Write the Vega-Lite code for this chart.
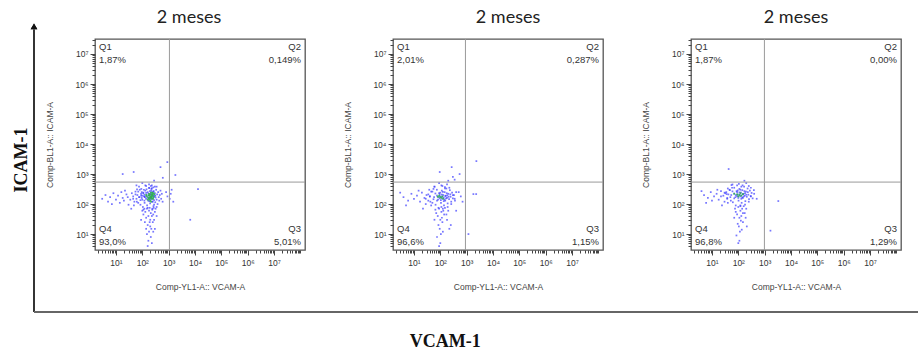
{
"$schema": "https://vega.github.io/schema/vega-lite/v6.json",
"padding": {"left": 12, "top": 7, "right": 0, "bottom": 2},
"autosize": {"type": "pad"},
"config": {
  "font": "Liberation Sans",
  "view": {"stroke": "#555", "strokeWidth": 1.3},
  "axis": {"grid": false, "domain": false, "labelFont": "Liberation Sans", "labelFontSize": 8.5, "labelColor": "#333", "tickColor": "#444", "titleFont": "Liberation Sans", "titleFontSize": 8.5, "titleFontWeight": "normal", "titleColor": "#444", "labelOverlap": false, "labelFlush": false},
  "title": {"font": "Lato", "fontSize": 18, "fontWeight": "normal", "color": "#222", "offset": 12, "anchor": "middle"}
},
"datasets": {
  "frame": [{"axis": "y", "label": "ICAM-1"}, {"axis": "x", "label": "VCAM-1"}],
  "gates": [{"panel": 1, "vcam_gate": 1070, "icam_gate": 540}, {"panel": 2, "vcam_gate": 900, "icam_gate": 540}, {"panel": 3, "vcam_gate": 980, "icam_gate": 540}],
  "quads": [
    {"panel": 1, "quad": "Q1", "label": "Q1\n1,87%"}, {"panel": 1, "quad": "Q2", "label": "Q2\n0,149%"}, {"panel": 1, "quad": "Q3", "label": "Q3\n5,01%"}, {"panel": 1, "quad": "Q4", "label": "Q4\n93,0%"},
    {"panel": 2, "quad": "Q1", "label": "Q1\n2,01%"}, {"panel": 2, "quad": "Q2", "label": "Q2\n0,287%"}, {"panel": 2, "quad": "Q3", "label": "Q3\n1,15%"}, {"panel": 2, "quad": "Q4", "label": "Q4\n96,6%"},
    {"panel": 3, "quad": "Q1", "label": "Q1\n1,87%"}, {"panel": 3, "quad": "Q2", "label": "Q2\n0,00%"}, {"panel": 3, "quad": "Q3", "label": "Q3\n1,29%"}, {"panel": 3, "quad": "Q4", "label": "Q4\n96,8%"}
  ],
  "p1": [
    {"vcam":45,"icam":150},{"vcam":55,"icam":210},{"vcam":62,"icam":120},{"vcam":70,"icam":260},{"vcam":78,"icam":170},{"vcam":85,"icam":95},{"vcam":92,"icam":320},{"vcam":100,"icam":140},{"vcam":108,"icam":230},{"vcam":115,"icam":180},
    {"vcam":122,"icam":110},{"vcam":130,"icam":280},{"vcam":138,"icam":150},{"vcam":145,"icam":200},{"vcam":152,"icam":90},{"vcam":160,"icam":250},{"vcam":168,"icam":130},{"vcam":175,"icam":190},{"vcam":182,"icam":340},{"vcam":190,"icam":160},
    {"vcam":198,"icam":105},{"vcam":205,"icam":220},{"vcam":212,"icam":145},{"vcam":220,"icam":290},{"vcam":228,"icam":175},{"vcam":235,"icam":120},{"vcam":242,"icam":240},{"vcam":250,"icam":155},{"vcam":258,"icam":200},{"vcam":265,"icam":85},
    {"vcam":272,"icam":270},{"vcam":280,"icam":135},{"vcam":290,"icam":185},{"vcam":300,"icam":230},{"vcam":310,"icam":115},{"vcam":320,"icam":165},{"vcam":335,"icam":300},{"vcam":350,"icam":140},{"vcam":365,"icam":210},{"vcam":380,"icam":100},
    {"vcam":400,"icam":250},{"vcam":420,"icam":170},{"vcam":440,"icam":130},{"vcam":460,"icam":200},{"vcam":490,"icam":280},{"vcam":520,"icam":150},{"vcam":550,"icam":220},{"vcam":590,"icam":120},{"vcam":75,"icam":380},{"vcam":130,"icam":420},
    {"vcam":210,"icam":400},{"vcam":300,"icam":380},{"vcam":160,"icam":75},{"vcam":240,"icam":70},{"vcam":110,"icam":65},{"vcam":350,"icam":80},{"vcam":180,"icam":450},{"vcam":260,"icam":360},{"vcam":95,"icam":250},{"vcam":145,"icam":310},
    {"vcam":195,"icam":270},{"vcam":230,"icam":330},{"vcam":280,"icam":95},{"vcam":125,"icam":175},{"vcam":170,"icam":225},{"vcam":215,"icam":165},{"vcam":250,"icam":120},{"vcam":185,"icam":125},{"vcam":155,"icam":165},{"vcam":205,"icam":185},
    {"vcam":235,"icam":205},{"vcam":265,"icam":175},{"vcam":140,"icam":235},{"vcam":225,"icam":250},{"vcam":175,"icam":150},{"vcam":195,"icam":205},{"vcam":260,"icam":260},{"vcam":120,"icam":205},{"vcam":310,"icam":190},{"vcam":90,"icam":190},
    {"vcam":3,"icam":150},{"vcam":4,"icam":200},{"vcam":5,"icam":120},{"vcam":6,"icam":170},{"vcam":8,"icam":230},{"vcam":10,"icam":140},{"vcam":12,"icam":190},{"vcam":14,"icam":110},{"vcam":16,"icam":250},{"vcam":18,"icam":160},
    {"vcam":20,"icam":130},{"vcam":25,"icam":210},{"vcam":28,"icam":170},{"vcam":30,"icam":95},{"vcam":35,"icam":140},{"vcam":40,"icam":230},{"vcam":45,"icam":180},{"vcam":50,"icam":120},{"vcam":55,"icam":260},{"vcam":60,"icam":150},
    {"vcam":65,"icam":200},{"vcam":70,"icam":110},{"vcam":75,"icam":170},{"vcam":80,"icam":300},{"vcam":85,"icam":135},{"vcam":90,"icam":220},{"vcam":95,"icam":160},{"vcam":100,"icam":190},{"vcam":110,"icam":240},{"vcam":120,"icam":130},
    {"vcam":7,"icam":100},{"vcam":22,"icam":280},{"vcam":48,"icam":90},{"vcam":63,"icam":310},{"vcam":38,"icam":70},{"vcam":105,"icam":80},{"vcam":115,"icam":300},{"vcam":125,"icam":170},
    {"vcam":150,"icam":70},{"vcam":180,"icam":60},{"vcam":210,"icam":50},{"vcam":170,"icam":40},{"vcam":240,"icam":65},{"vcam":200,"icam":30},{"vcam":130,"icam":55},{"vcam":260,"icam":45},{"vcam":190,"icam":25},{"vcam":160,"icam":20},
    {"vcam":220,"icam":15},{"vcam":140,"icam":35},{"vcam":250,"icam":25},{"vcam":180,"icam":12},{"vcam":120,"icam":70},{"vcam":270,"icam":75},{"vcam":300,"icam":55},{"vcam":210,"icam":8},{"vcam":230,"icam":40},{"vcam":170,"icam":6},
    {"vcam":150,"icam":10},{"vcam":200,"icam":18},{"vcam":280,"icam":30},{"vcam":110,"icam":45},{"vcam":320,"icam":70},{"vcam":140,"icam":15},{"vcam":260,"icam":12},{"vcam":190,"icam":75},{"vcam":100,"icam":60},{"vcam":350,"icam":40},
    {"vcam":230,"icam":5},{"vcam":160,"icam":4},{"vcam":90,"icam":30},{"vcam":300,"icam":15},{"vcam":125,"icam":25},
    {"vcam":890,"icam":2500},{"vcam":1800,"icam":930},{"vcam":47,"icam":1170},{"vcam":18,"icam":1000},{"vcam":490,"icam":1700},{"vcam":140,"icam":400},{"vcam":100,"icam":500},{"vcam":180,"icam":350},{"vcam":230,"icam":420},{"vcam":280,"icam":600},
    {"vcam":350,"icam":380},{"vcam":60,"icam":420},{"vcam":220,"icam":330},{"vcam":600,"icam":750},
    {"vcam":1300,"icam":300},{"vcam":13000,"icam":316},{"vcam":6600,"icam":30},{"vcam":1100,"icam":150},{"vcam":1200,"icam":220},{"vcam":900,"icam":180},{"vcam":1500,"icam":120},{"vcam":800,"icam":250}
  ],
  "p1hi": [
    {"vcam":150,"icam":180},{"vcam":170,"icam":160},{"vcam":190,"icam":200},{"vcam":210,"icam":175},{"vcam":230,"icam":150},{"vcam":250,"icam":190},{"vcam":180,"icam":220},{"vcam":200,"icam":130},{"vcam":220,"icam":210},{"vcam":240,"icam":240},
    {"vcam":160,"icam":140},{"vcam":270,"icam":170},{"vcam":190,"icam":170},{"vcam":210,"icam":240},{"vcam":230,"icam":190},{"vcam":175,"icam":195},{"vcam":255,"icam":150},{"vcam":140,"icam":200},{"vcam":290,"icam":210},{"vcam":200,"icam":160},
    {"vcam":215,"icam":120},{"vcam":245,"icam":215},{"vcam":185,"icam":145},{"vcam":265,"icam":230},{"vcam":225,"icam":170}
  ],
  "p2": [
    {"vcam":28,"icam":150},{"vcam":35,"icam":210},{"vcam":42,"icam":120},{"vcam":50,"icam":260},{"vcam":58,"icam":170},{"vcam":66,"icam":95},{"vcam":74,"icam":300},{"vcam":82,"icam":140},{"vcam":90,"icam":230},{"vcam":98,"icam":180},
    {"vcam":106,"icam":110},{"vcam":114,"icam":280},{"vcam":122,"icam":150},{"vcam":130,"icam":200},{"vcam":138,"icam":90},{"vcam":146,"icam":250},{"vcam":154,"icam":130},{"vcam":162,"icam":190},{"vcam":170,"icam":330},{"vcam":180,"icam":160},
    {"vcam":190,"icam":105},{"vcam":200,"icam":220},{"vcam":215,"icam":145},{"vcam":230,"icam":290},{"vcam":245,"icam":175},{"vcam":260,"icam":120},{"vcam":280,"icam":240},{"vcam":300,"icam":155},{"vcam":330,"icam":200},{"vcam":360,"icam":130},
    {"vcam":400,"icam":250},{"vcam":60,"icam":380},{"vcam":110,"icam":420},{"vcam":150,"icam":370},{"vcam":85,"icam":75},{"vcam":125,"icam":70},{"vcam":190,"icam":80},{"vcam":45,"icam":90},{"vcam":75,"icam":190},{"vcam":95,"icam":155},
    {"vcam":115,"icam":205},{"vcam":135,"icam":165},{"vcam":155,"icam":185},{"vcam":105,"icam":135},{"vcam":65,"icam":225},{"vcam":125,"icam":255},{"vcam":175,"icam":230},{"vcam":85,"icam":170},{"vcam":145,"icam":140},{"vcam":205,"icam":175},
    {"vcam":55,"icam":145},{"vcam":115,"icam":175},{"vcam":95,"icam":210},{"vcam":135,"icam":125},{"vcam":165,"icam":155},{"vcam":75,"icam":130},{"vcam":185,"icam":195},{"vcam":100,"icam":240},{"vcam":240,"icam":210},{"vcam":40,"icam":180},
    {"vcam":4,"icam":170},{"vcam":6,"icam":130},{"vcam":8,"icam":220},{"vcam":10,"icam":150},{"vcam":13,"icam":190},{"vcam":17,"icam":120},{"vcam":20,"icam":240},{"vcam":25,"icam":160},{"vcam":30,"icam":200},{"vcam":35,"icam":130},
    {"vcam":40,"icam":180},{"vcam":45,"icam":260},{"vcam":50,"icam":110},{"vcam":28,"icam":100},{"vcam":15,"icam":280},{"vcam":5,"icam":90},{"vcam":22,"icam":70},{"vcam":38,"icam":300},{"vcam":55,"icam":320},{"vcam":3,"icam":240},
    {"vcam":90,"icam":70},{"vcam":110,"icam":55},{"vcam":80,"icam":40},{"vcam":130,"icam":60},{"vcam":100,"icam":30},{"vcam":70,"icam":50},{"vcam":120,"icam":25},{"vcam":95,"icam":15},{"vcam":140,"icam":45},{"vcam":85,"icam":20},
    {"vcam":105,"icam":10},{"vcam":115,"icam":35},{"vcam":75,"icam":8},{"vcam":100,"icam":5},{"vcam":125,"icam":12},{"vcam":60,"icam":30},{"vcam":150,"icam":75},{"vcam":90,"icam":4},{"vcam":200,"icam":60},{"vcam":180,"icam":30},
    {"vcam":220,"icam":15},{"vcam":110,"icam":80},{"vcam":65,"icam":65},{"vcam":170,"icam":45},{"vcam":250,"icam":20},
    {"vcam":2340,"icam":2700},{"vcam":270,"icam":1700},{"vcam":540,"icam":1000},{"vcam":95,"icam":1170},{"vcam":120,"icam":400},{"vcam":200,"icam":600},{"vcam":150,"icam":330},{"vcam":90,"icam":500},{"vcam":60,"icam":380},{"vcam":300,"icam":800},
    {"vcam":180,"icam":450},{"vcam":350,"icam":650},{"vcam":220,"icam":350},
    {"vcam":300,"icam":200},{"vcam":350,"icam":150},{"vcam":500,"icam":250},{"vcam":700,"icam":120},{"vcam":1800,"icam":215},{"vcam":2300,"icam":215},{"vcam":1170,"icam":10},{"vcam":400,"icam":60},{"vcam":600,"icam":180},{"vcam":260,"icam":100}
  ],
  "p2hi": [
    {"vcam":100,"icam":170},{"vcam":120,"icam":180},{"vcam":90,"icam":190},{"vcam":110,"icam":160},{"vcam":130,"icam":150},{"vcam":80,"icam":175}
  ],
  "p3": [
    {"vcam":22,"icam":180},{"vcam":30,"icam":240},{"vcam":38,"icam":150},{"vcam":46,"icam":300},{"vcam":54,"icam":200},{"vcam":62,"icam":115},{"vcam":70,"icam":350},{"vcam":78,"icam":170},{"vcam":86,"icam":270},{"vcam":94,"icam":210},
    {"vcam":102,"icam":130},{"vcam":110,"icam":320},{"vcam":118,"icam":180},{"vcam":126,"icam":240},{"vcam":134,"icam":110},{"vcam":142,"icam":290},{"vcam":150,"icam":160},{"vcam":158,"icam":220},{"vcam":166,"icam":380},{"vcam":175,"icam":190},
    {"vcam":185,"icam":125},{"vcam":195,"icam":260},{"vcam":210,"icam":175},{"vcam":225,"icam":330},{"vcam":240,"icam":205},{"vcam":255,"icam":145},{"vcam":275,"icam":280},{"vcam":295,"icam":185},{"vcam":320,"icam":235},{"vcam":350,"icam":155},
    {"vcam":390,"icam":290},{"vcam":55,"icam":430},{"vcam":105,"icam":470},{"vcam":145,"icam":420},{"vcam":80,"icam":90},{"vcam":120,"icam":85},{"vcam":180,"icam":95},{"vcam":40,"icam":110},{"vcam":70,"icam":225},{"vcam":90,"icam":185},
    {"vcam":110,"icam":245},{"vcam":130,"icam":195},{"vcam":150,"icam":215},{"vcam":100,"icam":160},{"vcam":60,"icam":265},{"vcam":120,"icam":300},{"vcam":170,"icam":270},{"vcam":80,"icam":200},{"vcam":140,"icam":165},{"vcam":200,"icam":205},
    {"vcam":50,"icam":170},{"vcam":110,"icam":205},{"vcam":90,"icam":250},{"vcam":130,"icam":150},{"vcam":160,"icam":180},{"vcam":70,"icam":155},{"vcam":180,"icam":230},{"vcam":95,"icam":285},{"vcam":230,"icam":250},{"vcam":36,"icam":215},
    {"vcam":5,"icam":200},{"vcam":7,"icam":160},{"vcam":9,"icam":250},{"vcam":12,"icam":180},{"vcam":15,"icam":220},{"vcam":18,"icam":140},{"vcam":22,"icam":270},{"vcam":27,"icam":190},{"vcam":32,"icam":230},{"vcam":38,"icam":160},
    {"vcam":42,"icam":210},{"vcam":48,"icam":290},{"vcam":52,"icam":130},{"vcam":30,"icam":120},{"vcam":16,"icam":300},{"vcam":6,"icam":110},{"vcam":24,"icam":90},{"vcam":40,"icam":330},{"vcam":58,"icam":350},{"vcam":4,"icam":270},
    {"vcam":10,"icam":130},{"vcam":35,"icam":250},
    {"vcam":100,"icam":80},{"vcam":120,"icam":60},{"vcam":90,"icam":45},{"vcam":140,"icam":70},{"vcam":110,"icam":35},{"vcam":80,"icam":55},{"vcam":125,"icam":28},{"vcam":105,"icam":18},{"vcam":150,"icam":50},{"vcam":95,"icam":22},
    {"vcam":115,"icam":12},{"vcam":130,"icam":40},{"vcam":85,"icam":9},{"vcam":110,"icam":6},{"vcam":135,"icam":14},{"vcam":70,"icam":35},{"vcam":160,"icam":85},{"vcam":100,"icam":5},{"vcam":200,"icam":70},{"vcam":190,"icam":35},
    {"vcam":210,"icam":18},{"vcam":120,"icam":90},{"vcam":75,"icam":70},{"vcam":175,"icam":50},{"vcam":150,"icam":25},
    {"vcam":130,"icam":380},{"vcam":43,"icam":1470},{"vcam":200,"icam":500},{"vcam":90,"icam":420},{"vcam":170,"icam":600},{"vcam":250,"icam":400},{"vcam":60,"icam":450},{"vcam":300,"icam":350},
    {"vcam":300,"icam":180},{"vcam":400,"icam":220},{"vcam":3300,"icam":126},{"vcam":1660,"icam":13},{"vcam":500,"icam":150},{"vcam":250,"icam":120}
  ],
  "p3hi": [
    {"vcam":110,"icam":200},{"vcam":130,"icam":190},{"vcam":90,"icam":210},{"vcam":120,"icam":230},{"vcam":100,"icam":180},{"vcam":150,"icam":215},{"vcam":70,"icam":220}
  ]
},
"bounds": "flush",
"spacing": 0,
"hconcat": [
  {
    "width": 61, "height": 273,
    "view": {"stroke": null},
    "data": {"name": "frame"},
    "layer": [
      {"mark": {"type": "rule", "color": "#222", "strokeWidth": 1.4},
       "encoding": {"x": {"datum": 0, "type": "quantitative", "scale": {"domain": [0, 1]}, "axis": null},
                    "y": {"datum": 0, "type": "quantitative", "scale": {"domain": [0, 1]}, "axis": null},
                    "y2": {"datum": 1.035}}},
      {"mark": {"type": "rule", "color": "#666", "strokeWidth": 1.8},
       "encoding": {"x": {"datum": 0, "type": "quantitative", "axis": null}, "x2": {"datum": 14.51},
                    "y": {"datum": 0, "type": "quantitative", "axis": null}}},
      {"mark": {"type": "point", "shape": "triangle-up", "filled": true, "size": 45, "color": "#111", "opacity": 1},
       "encoding": {"x": {"datum": 0, "type": "quantitative", "axis": null}, "y": {"datum": 1.046, "type": "quantitative", "axis": null}}},
      {"transform": [{"filter": "datum.axis == 'y'"}],
       "mark": {"type": "text", "angle": 270, "font": "Liberation Serif", "fontWeight": "bold", "fontSize": 18, "align": "center", "baseline": "middle", "color": "#111"},
       "encoding": {"x": {"datum": -0.197, "type": "quantitative", "axis": null}, "y": {"datum": 0.557, "type": "quantitative", "axis": null}, "text": {"field": "label"}}},
      {"transform": [{"filter": "datum.axis == 'x'"}],
       "mark": {"type": "text", "font": "Liberation Serif", "fontWeight": "bold", "fontSize": 18, "align": "center", "baseline": "middle", "color": "#111"},
       "encoding": {"x": {"datum": 6.74, "type": "quantitative", "axis": null}, "y": {"datum": -0.11, "type": "quantitative", "axis": null}, "text": {"field": "label"}}}
    ]
  },
  {
    "bounds": "flush",
    "spacing": 88,
    "hconcat": [
      {
        "width": 210, "height": 211,
        "title": {"text": "2 meses", "dx": -11},
        "layer": [
          {"data": {"name": "p1"}, "mark": {"type": "square", "size": 3, "opacity": 0.7, "color": "#3d3dff"},
           "encoding": {
             "x": {"field": "vcam", "type": "quantitative", "scale": {"type": "log", "domain": [1.6, 150000000], "nice": false}, "axis": {"orient": "bottom", "values": [10, 100, 1000, 10000, 100000, 1000000, 10000000], "labelExpr": "'10' + ['⁰','¹','²','³','⁴','⁵','⁶','⁷','⁸'][round(log(datum.value)/LN10)]", "tickSize": 5, "labelPadding": 3, "title": "Comp-YL1-A:: VCAM-A", "titlePadding": 16}},
             "y": {"field": "icam", "type": "quantitative", "scale": {"type": "log", "domain": [2.95, 31600000], "nice": false}, "axis": {"orient": "left", "values": [10, 100, 1000, 10000, 100000, 1000000, 10000000], "labelExpr": "'10' + ['⁰','¹','²','³','⁴','⁵','⁶','⁷','⁸'][round(log(datum.value)/LN10)]", "tickSize": 5, "labelPadding": 2, "title": "Comp-BL1-A:: ICAM-A", "titleAngle": 270, "titleX": -46, "titleAlign": "center", "titleBaseline": "middle"}}}},
          {"data": {"name": "p1hi"}, "mark": {"type": "square", "size": 3, "opacity": 0.9, "color": "#2fb54a"},
           "encoding": {"x": {"field": "vcam", "type": "quantitative", "scale": {"type": "log", "domain": [1.6, 150000000], "nice": false}, "axis": null},
                        "y": {"field": "icam", "type": "quantitative", "scale": {"type": "log", "domain": [2.95, 31600000], "nice": false}, "axis": null}}},
          {"data": {"name": "gates"}, "transform": [{"filter": "datum.panel == 1"}], "mark": {"type": "rule", "color": "#9a9a9a", "strokeWidth": 1},
           "encoding": {"x": {"field": "vcam_gate", "type": "quantitative", "scale": {"type": "log", "domain": [1.6, 150000000], "nice": false}, "axis": {"orient": "bottom", "values": [2,3,4,5,6,7,8,9,20,30,40,50,60,70,80,90,200,300,400,500,600,700,800,900,2000,3000,4000,5000,6000,7000,8000,9000,20000,30000,40000,50000,60000,70000,80000,90000,200000,300000,400000,500000,600000,700000,800000,900000,2000000,3000000,4000000,5000000,6000000,7000000,8000000,9000000,20000000,30000000,40000000,50000000,60000000,70000000,80000000,90000000,100000000], "labels": false, "tickSize": 3, "title": null}}}},
          {"data": {"name": "gates"}, "transform": [{"filter": "datum.panel == 1"}], "mark": {"type": "rule", "color": "#9a9a9a", "strokeWidth": 1},
           "encoding": {"y": {"field": "icam_gate", "type": "quantitative", "scale": {"type": "log", "domain": [2.95, 31600000], "nice": false}, "axis": {"orient": "left", "values": [4,5,6,7,8,9,20,30,40,50,60,70,80,90,200,300,400,500,600,700,800,900,2000,3000,4000,5000,6000,7000,8000,9000,20000,30000,40000,50000,60000,70000,80000,90000,200000,300000,400000,500000,600000,700000,800000,900000,2000000,3000000,4000000,5000000,6000000,7000000,8000000,9000000,20000000,30000000], "labels": false, "tickSize": 3, "title": null}}}},
          {"data": {"name": "quads"}, "transform": [{"filter": "datum.panel == 1 && datum.quad == 'Q1'"}], "mark": {"type": "text", "align": "left", "baseline": "top", "dx": 4, "dy": 3, "lineBreak": "\n", "lineHeight": 13, "fontSize": 9.5, "color": "#333"},
           "encoding": {"x": {"datum": 1.6, "type": "quantitative", "axis": null}, "y": {"datum": 31600000, "type": "quantitative", "axis": null}, "text": {"field": "label"}}},
          {"data": {"name": "quads"}, "transform": [{"filter": "datum.panel == 1 && datum.quad == 'Q2'"}], "mark": {"type": "text", "align": "right", "baseline": "top", "dx": -4, "dy": 3, "lineBreak": "\n", "lineHeight": 13, "fontSize": 9.5, "color": "#333"},
           "encoding": {"x": {"datum": 150000000, "type": "quantitative", "axis": null}, "y": {"datum": 31600000, "type": "quantitative", "axis": null}, "text": {"field": "label"}}},
          {"data": {"name": "quads"}, "transform": [{"filter": "datum.panel == 1 && datum.quad == 'Q3'"}], "mark": {"type": "text", "align": "right", "baseline": "top", "dx": -4, "dy": -26, "lineBreak": "\n", "lineHeight": 13, "fontSize": 9.5, "color": "#333"},
           "encoding": {"x": {"datum": 150000000, "type": "quantitative", "axis": null}, "y": {"datum": 2.95, "type": "quantitative", "axis": null}, "text": {"field": "label"}}},
          {"data": {"name": "quads"}, "transform": [{"filter": "datum.panel == 1 && datum.quad == 'Q4'"}], "mark": {"type": "text", "align": "left", "baseline": "top", "dx": 4, "dy": -26, "lineBreak": "\n", "lineHeight": 13, "fontSize": 9.5, "color": "#333"},
           "encoding": {"x": {"datum": 1.6, "type": "quantitative", "axis": null}, "y": {"datum": 2.95, "type": "quantitative", "axis": null}, "text": {"field": "label"}}}
        ],
        "resolve": {"axis": {"x": "independent", "y": "independent"}}
      },
      {
        "width": 210, "height": 211,
        "title": {"text": "2 meses", "dx": 10},
        "layer": [
          {"data": {"name": "p2"}, "mark": {"type": "square", "size": 3, "opacity": 0.7, "color": "#3d3dff"},
           "encoding": {
             "x": {"field": "vcam", "type": "quantitative", "scale": {"type": "log", "domain": [1.6, 150000000], "nice": false}, "axis": {"orient": "bottom", "values": [10, 100, 1000, 10000, 100000, 1000000, 10000000], "labelExpr": "'10' + ['⁰','¹','²','³','⁴','⁵','⁶','⁷','⁸'][round(log(datum.value)/LN10)]", "tickSize": 5, "labelPadding": 3, "title": "Comp-YL1-A:: VCAM-A", "titlePadding": 16}},
             "y": {"field": "icam", "type": "quantitative", "scale": {"type": "log", "domain": [2.95, 31600000], "nice": false}, "axis": {"orient": "left", "values": [10, 100, 1000, 10000, 100000, 1000000, 10000000], "labelExpr": "'10' + ['⁰','¹','²','³','⁴','⁵','⁶','⁷','⁸'][round(log(datum.value)/LN10)]", "tickSize": 5, "labelPadding": 2, "title": "Comp-BL1-A:: ICAM-A", "titleAngle": 270, "titleX": -46, "titleAlign": "center", "titleBaseline": "middle"}}}},
          {"data": {"name": "p2hi"}, "mark": {"type": "square", "size": 3, "opacity": 0.9, "color": "#2fb54a"},
           "encoding": {"x": {"field": "vcam", "type": "quantitative", "scale": {"type": "log", "domain": [1.6, 150000000], "nice": false}, "axis": null},
                        "y": {"field": "icam", "type": "quantitative", "scale": {"type": "log", "domain": [2.95, 31600000], "nice": false}, "axis": null}}},
          {"data": {"name": "gates"}, "transform": [{"filter": "datum.panel == 2"}], "mark": {"type": "rule", "color": "#9a9a9a", "strokeWidth": 1},
           "encoding": {"x": {"field": "vcam_gate", "type": "quantitative", "scale": {"type": "log", "domain": [1.6, 150000000], "nice": false}, "axis": {"orient": "bottom", "values": [2,3,4,5,6,7,8,9,20,30,40,50,60,70,80,90,200,300,400,500,600,700,800,900,2000,3000,4000,5000,6000,7000,8000,9000,20000,30000,40000,50000,60000,70000,80000,90000,200000,300000,400000,500000,600000,700000,800000,900000,2000000,3000000,4000000,5000000,6000000,7000000,8000000,9000000,20000000,30000000,40000000,50000000,60000000,70000000,80000000,90000000,100000000], "labels": false, "tickSize": 3, "title": null}}}},
          {"data": {"name": "gates"}, "transform": [{"filter": "datum.panel == 2"}], "mark": {"type": "rule", "color": "#9a9a9a", "strokeWidth": 1},
           "encoding": {"y": {"field": "icam_gate", "type": "quantitative", "scale": {"type": "log", "domain": [2.95, 31600000], "nice": false}, "axis": {"orient": "left", "values": [4,5,6,7,8,9,20,30,40,50,60,70,80,90,200,300,400,500,600,700,800,900,2000,3000,4000,5000,6000,7000,8000,9000,20000,30000,40000,50000,60000,70000,80000,90000,200000,300000,400000,500000,600000,700000,800000,900000,2000000,3000000,4000000,5000000,6000000,7000000,8000000,9000000,20000000,30000000], "labels": false, "tickSize": 3, "title": null}}}},
          {"data": {"name": "quads"}, "transform": [{"filter": "datum.panel == 2 && datum.quad == 'Q1'"}], "mark": {"type": "text", "align": "left", "baseline": "top", "dx": 4, "dy": 3, "lineBreak": "\n", "lineHeight": 13, "fontSize": 9.5, "color": "#333"},
           "encoding": {"x": {"datum": 1.6, "type": "quantitative", "axis": null}, "y": {"datum": 31600000, "type": "quantitative", "axis": null}, "text": {"field": "label"}}},
          {"data": {"name": "quads"}, "transform": [{"filter": "datum.panel == 2 && datum.quad == 'Q2'"}], "mark": {"type": "text", "align": "right", "baseline": "top", "dx": -4, "dy": 3, "lineBreak": "\n", "lineHeight": 13, "fontSize": 9.5, "color": "#333"},
           "encoding": {"x": {"datum": 150000000, "type": "quantitative", "axis": null}, "y": {"datum": 31600000, "type": "quantitative", "axis": null}, "text": {"field": "label"}}},
          {"data": {"name": "quads"}, "transform": [{"filter": "datum.panel == 2 && datum.quad == 'Q3'"}], "mark": {"type": "text", "align": "right", "baseline": "top", "dx": -4, "dy": -26, "lineBreak": "\n", "lineHeight": 13, "fontSize": 9.5, "color": "#333"},
           "encoding": {"x": {"datum": 150000000, "type": "quantitative", "axis": null}, "y": {"datum": 2.95, "type": "quantitative", "axis": null}, "text": {"field": "label"}}},
          {"data": {"name": "quads"}, "transform": [{"filter": "datum.panel == 2 && datum.quad == 'Q4'"}], "mark": {"type": "text", "align": "left", "baseline": "top", "dx": 4, "dy": -26, "lineBreak": "\n", "lineHeight": 13, "fontSize": 9.5, "color": "#333"},
           "encoding": {"x": {"datum": 1.6, "type": "quantitative", "axis": null}, "y": {"datum": 2.95, "type": "quantitative", "axis": null}, "text": {"field": "label"}}}
        ],
        "resolve": {"axis": {"x": "independent", "y": "independent"}}
      },
      {
        "width": 210, "height": 211,
        "title": {"text": "2 meses", "dx": 0},
        "layer": [
          {"data": {"name": "p3"}, "mark": {"type": "square", "size": 3, "opacity": 0.7, "color": "#3d3dff"},
           "encoding": {
             "x": {"field": "vcam", "type": "quantitative", "scale": {"type": "log", "domain": [1.6, 150000000], "nice": false}, "axis": {"orient": "bottom", "values": [10, 100, 1000, 10000, 100000, 1000000, 10000000], "labelExpr": "'10' + ['⁰','¹','²','³','⁴','⁵','⁶','⁷','⁸'][round(log(datum.value)/LN10)]", "tickSize": 5, "labelPadding": 3, "title": "Comp-YL1-A:: VCAM-A", "titlePadding": 16}},
             "y": {"field": "icam", "type": "quantitative", "scale": {"type": "log", "domain": [2.95, 31600000], "nice": false}, "axis": {"orient": "left", "values": [10, 100, 1000, 10000, 100000, 1000000, 10000000], "labelExpr": "'10' + ['⁰','¹','²','³','⁴','⁵','⁶','⁷','⁸'][round(log(datum.value)/LN10)]", "tickSize": 5, "labelPadding": 2, "title": "Comp-BL1-A:: ICAM-A", "titleAngle": 270, "titleX": -46, "titleAlign": "center", "titleBaseline": "middle"}}}},
          {"data": {"name": "p3hi"}, "mark": {"type": "square", "size": 3, "opacity": 0.9, "color": "#2fb54a"},
           "encoding": {"x": {"field": "vcam", "type": "quantitative", "scale": {"type": "log", "domain": [1.6, 150000000], "nice": false}, "axis": null},
                        "y": {"field": "icam", "type": "quantitative", "scale": {"type": "log", "domain": [2.95, 31600000], "nice": false}, "axis": null}}},
          {"data": {"name": "gates"}, "transform": [{"filter": "datum.panel == 3"}], "mark": {"type": "rule", "color": "#9a9a9a", "strokeWidth": 1},
           "encoding": {"x": {"field": "vcam_gate", "type": "quantitative", "scale": {"type": "log", "domain": [1.6, 150000000], "nice": false}, "axis": {"orient": "bottom", "values": [2,3,4,5,6,7,8,9,20,30,40,50,60,70,80,90,200,300,400,500,600,700,800,900,2000,3000,4000,5000,6000,7000,8000,9000,20000,30000,40000,50000,60000,70000,80000,90000,200000,300000,400000,500000,600000,700000,800000,900000,2000000,3000000,4000000,5000000,6000000,7000000,8000000,9000000,20000000,30000000,40000000,50000000,60000000,70000000,80000000,90000000,100000000], "labels": false, "tickSize": 3, "title": null}}}},
          {"data": {"name": "gates"}, "transform": [{"filter": "datum.panel == 3"}], "mark": {"type": "rule", "color": "#9a9a9a", "strokeWidth": 1},
           "encoding": {"y": {"field": "icam_gate", "type": "quantitative", "scale": {"type": "log", "domain": [2.95, 31600000], "nice": false}, "axis": {"orient": "left", "values": [4,5,6,7,8,9,20,30,40,50,60,70,80,90,200,300,400,500,600,700,800,900,2000,3000,4000,5000,6000,7000,8000,9000,20000,30000,40000,50000,60000,70000,80000,90000,200000,300000,400000,500000,600000,700000,800000,900000,2000000,3000000,4000000,5000000,6000000,7000000,8000000,9000000,20000000,30000000], "labels": false, "tickSize": 3, "title": null}}}},
          {"data": {"name": "quads"}, "transform": [{"filter": "datum.panel == 3 && datum.quad == 'Q1'"}], "mark": {"type": "text", "align": "left", "baseline": "top", "dx": 4, "dy": 3, "lineBreak": "\n", "lineHeight": 13, "fontSize": 9.5, "color": "#333"},
           "encoding": {"x": {"datum": 1.6, "type": "quantitative", "axis": null}, "y": {"datum": 31600000, "type": "quantitative", "axis": null}, "text": {"field": "label"}}},
          {"data": {"name": "quads"}, "transform": [{"filter": "datum.panel == 3 && datum.quad == 'Q2'"}], "mark": {"type": "text", "align": "right", "baseline": "top", "dx": -4, "dy": 3, "lineBreak": "\n", "lineHeight": 13, "fontSize": 9.5, "color": "#333"},
           "encoding": {"x": {"datum": 150000000, "type": "quantitative", "axis": null}, "y": {"datum": 31600000, "type": "quantitative", "axis": null}, "text": {"field": "label"}}},
          {"data": {"name": "quads"}, "transform": [{"filter": "datum.panel == 3 && datum.quad == 'Q3'"}], "mark": {"type": "text", "align": "right", "baseline": "top", "dx": -4, "dy": -26, "lineBreak": "\n", "lineHeight": 13, "fontSize": 9.5, "color": "#333"},
           "encoding": {"x": {"datum": 150000000, "type": "quantitative", "axis": null}, "y": {"datum": 2.95, "type": "quantitative", "axis": null}, "text": {"field": "label"}}},
          {"data": {"name": "quads"}, "transform": [{"filter": "datum.panel == 3 && datum.quad == 'Q4'"}], "mark": {"type": "text", "align": "left", "baseline": "top", "dx": 4, "dy": -26, "lineBreak": "\n", "lineHeight": 13, "fontSize": 9.5, "color": "#333"},
           "encoding": {"x": {"datum": 1.6, "type": "quantitative", "axis": null}, "y": {"datum": 2.95, "type": "quantitative", "axis": null}, "text": {"field": "label"}}}
        ],
        "resolve": {"axis": {"x": "independent", "y": "independent"}}
      }
    ]
  }
]
}
